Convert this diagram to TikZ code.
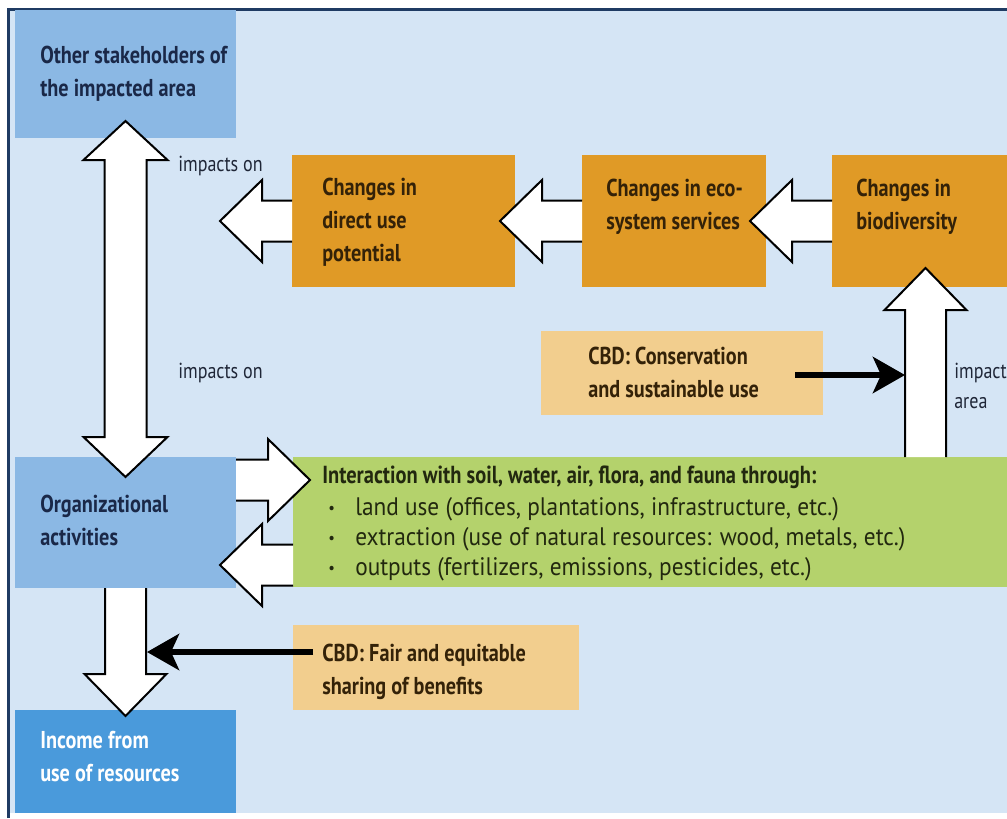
\documentclass[tikz,border=0pt]{standalone}
\usepackage{fontspec}
\setmainfont{PT Sans}
\newfontfamily\condf{PT Sans}[FakeStretch=0.83]
\newfontfamily\regf{PT Sans}[FakeStretch=0.92]
\usetikzlibrary{arrows.meta,fit,calc}
\definecolor{panel}{RGB}{213,229,245}
\definecolor{navy}{RGB}{31,59,99}
\definecolor{bluebox}{RGB}{139,184,228}
\definecolor{incbox}{RGB}{74,154,219}
\definecolor{orangebox}{RGB}{224,154,38}
\definecolor{lorange}{RGB}{242,206,142}
\definecolor{greenbox}{RGB}{180,210,108}
\definecolor{bluetext}{RGB}{26,40,72}
\definecolor{browntext}{RGB}{52,34,8}
\definecolor{greentext}{RGB}{34,40,15}
\definecolor{labeltext}{RGB}{31,38,55}
\newcommand{\smallbul}{\makebox[24.75pt][l]{\hspace{4.5pt}{\fontsize{12}{12}\selectfont\raisebox{1pt}{\textbullet}}}}
\tikzset{
  box/.style={inner sep=0pt, outer sep=0pt, draw=none},
  ttl/.style={anchor=base west, inner sep=0pt, align=left,
    font={\condf\bfseries\fontsize{18.3}{24.4}\selectfont}},
  lbl/.style={anchor=base west, inner sep=0pt, align=left, text=labeltext,
    font={\condf\fontsize{16.3}{22.5}\selectfont}},
  blkline/.style={line width=1.5pt, line join=miter, draw=black},
  blockarr/.pic={
    \fill[white] (0,-20.5) -- (#1,-20.5) -- (#1,-41) -- ({#1+42},0) -- (#1,41) -- (#1,20.5) -- (0,20.5) -- cycle;
    \draw[blkline] (0,-20.5) -- (#1,-20.5) -- (#1,-41) -- ({#1+42},0) -- (#1,41) -- (#1,20.5) -- (0,20.5);
  },
  thickarr/.style={line width=4.5pt, -{Stealth[length=24pt, width=27pt, inset=6pt]}}
}
\begin{document}
\begin{tikzpicture}[x=0.75pt, y=-0.75pt]
\useasboundingbox (0,0) rectangle (1007,818);
\fill[white] (0,0) rectangle (1007,818);
\fill[panel] (8,8) rectangle (1007,813);
\draw[navy, line width=2.25pt] (8.5,818) -- (8.5,9) -- (1007,9);

% boxes
\node[box, fill=bluebox, fit={(15,10)(236,138)}] (osh) {};
\node[box, fill=bluebox, fit={(15,457)(236,588)}] (org) {};
\node[box, fill=incbox, fit={(15,710)(236,813)}] (inc) {};
\node[box, fill=orangebox, fit={(292,155)(515,287)}] (dup) {};
\node[box, fill=orangebox, fit={(582,155)(766,287)}] (eco) {};
\node[box, fill=orangebox, fit={(832,155)(1007,287)}] (bio) {};
\node[box, fill=lorange, fit={(541,331)(823,415)}] (cbdc) {};
\node[box, fill=lorange, fit={(293,625)(579,710)}] (cbdf) {};
\node[box, fill=greenbox, fit={(293,457)(1007,587)}] (green) {};

% block arrows
\coordinate (dtop) at ($(osh.south)+(0,-17)$);
\fill[white] (dtop) --++(42,39) --++(-21,0) --++(0,277) --++(21,0) --++(-42,40) --++(-42,-40) --++(21,0) --++(0,-277) --++(-21,0) -- cycle;
\draw[blkline] (dtop) --++(42,39) --++(-21,0) --++(0,277) --++(21,0) --++(-42,40) --++(-42,-40) --++(21,0) --++(0,-277) --++(-21,0) -- cycle;
\pic[rotate=180] at (dup.west) {blockarr=30};
\pic[rotate=180] at (eco.west) {blockarr=40};
\pic[rotate=180] at (bio.west) {blockarr=40};
\pic[rotate=90] at ($(green.north -| bio.south)+(6,0)$) {blockarr=147};
\pic at ($(org.east)+(0,-42.5)$) {blockarr=32};
\pic[rotate=180] at ($(green.west)+(0,43)$) {blockarr=31};
\pic[rotate=-90] at (org.south) {blockarr=86};

% thick black arrows
\coordinate (c1s) at ($(cbdc.east)+(-28,2)$);
\coordinate (c1e) at (905,375);
\draw[thickarr] (c1s) -- (c1e);
\coordinate (c2s) at ($(cbdf.west)+(20,-15.5)$);
\coordinate (c2e) at (147,652);
\draw[thickarr] (c2s) -- (c2e);

% texts (anchor = baseline of last line)
\node[ttl, text=bluetext] (tosh) at (40,96) {Other stakeholders of\\the impacted area};
\node[ttl, text=bluetext] (torg) at (40,545) {Organizational\\activities};
\node[ttl, text=white] (tinc) at (40,781) {Income from\\use of resources};
\node[ttl, text=browntext] (tdup) at (322,261) {Changes in\\direct use\\potential};
\node[ttl, text=browntext] (teco) at (606,229) {Changes in eco-\\system services};
\node[ttl, text=browntext] (tbio) at (856,229) {Changes in\\biodiversity};
\node[ttl, text=browntext] (tcbdc) at (588,397) {CBD: Conservation\\and sustainable use};
\node[ttl, text=browntext] (tcbdf) at (322,694) {CBD: Fair and equitable\\sharing of benefits};
\node[anchor=base west, inner sep=0pt, align=left, text=greentext,
  font={\regf\fontsize{19}{22.5}\selectfont}] (tgreen) at (322,575)
  {{\condf\bfseries\fontsize{18.5}{22.5}\selectfont Interaction with soil, water, air, flora, and fauna through:}\\[1.5pt]
   \smallbul land use (offices, plantations, infrastructure, etc.)\\
   \smallbul extraction (use of natural resources: wood, metals, etc.)\\
   \smallbul outputs (fertilizers, emissions, pesticides, etc.)};
\node[lbl] (l1) at (178,171) {impacts on};
\node[lbl] (l2) at (178,378) {impacts on};
\node[lbl] (l3) at (954,408) {impact\\area};
\end{tikzpicture}
\end{document}
